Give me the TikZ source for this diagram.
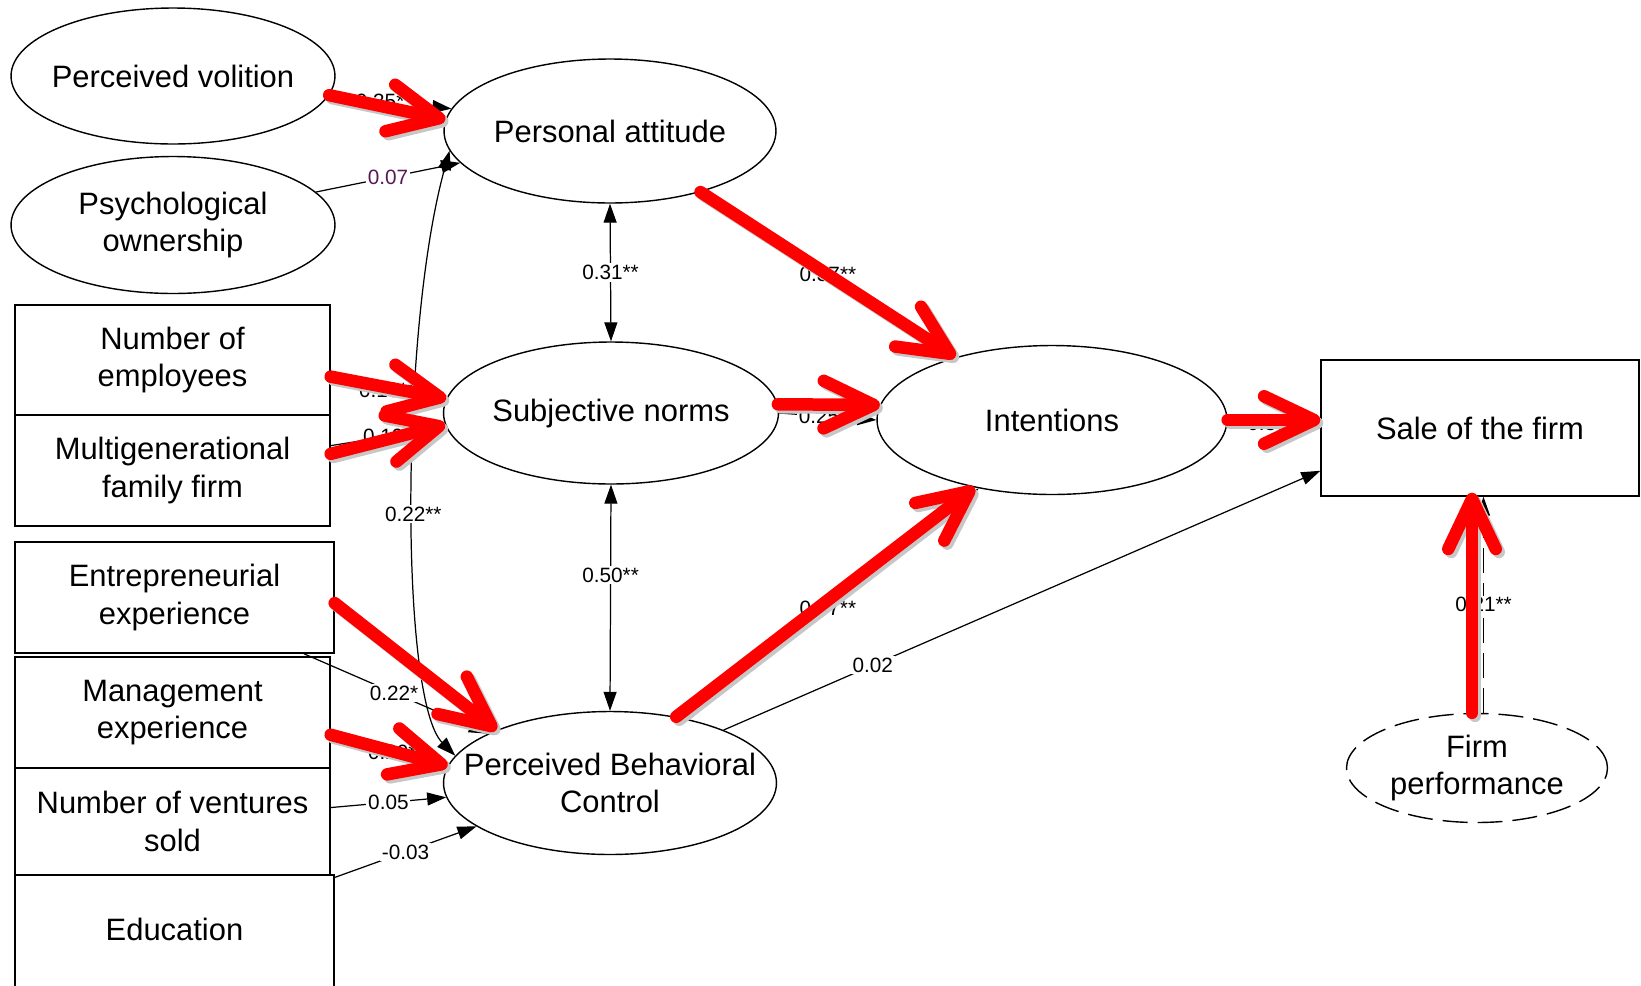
\documentclass[tikz,border=0pt]{standalone}
\usepackage{fontspec}
\setmainfont{Liberation Sans}
\usepackage{tikz}
\usetikzlibrary{arrows.meta, shapes.geometric}

\definecolor{coefpurple}{RGB}{88,24,88}

\begin{document}
\begin{tikzpicture}[
            font=\fontsize{17.6}{21.4}\selectfont,
            x=0.02cm, y=-0.02cm,
            >={Triangle[length=0.38cm, width=0.26cm]},
            latent/.style  ={ellipse, draw, line width=0.8pt, inner xsep=-1cm, inner ysep=0pt, align=center},
            obs/.style     ={rectangle, draw, line width=0.8pt, inner sep=0pt, align=center},
            path/.style    ={->, line width=0.7pt},
            coef/.style    ={font=\fontsize{11.8}{13}\selectfont, fill=white, inner sep=1pt},
            hot/.style     ={line width=0.25cm, draw=red, line cap=round,
                             -{Straight Barb[round, length=1cm, width=0.95cm]}},
            hotshade/.style={hot, draw=black!22, transform canvas={shift={(0.06cm,-0.06cm)}}}
        ]
        \useasboundingbox (0,0) rectangle (1641,985);

        % constructs
        \node[latent, minimum width=6.48cm, minimum height=2.72cm] (PV) at (173,76) {Perceived volition};
        \node[latent, minimum width=6.48cm, minimum height=2.74cm] (PO) at (173,225) {Psychological\\ownership};
        \node[latent, minimum width=6.64cm, minimum height=2.88cm] (PA) at (610,131) {Personal attitude};
        \node[latent, minimum width=6.70cm, minimum height=2.84cm] (SN) at (611,413) {Subjective norms};
        \node[latent, minimum width=7.00cm, minimum height=2.98cm] (INT) at (1052,420) {Intentions};
        \node[latent, minimum width=6.66cm, minimum height=2.86cm] (PBC) at (610,783) {Perceived Behavioral\\Control};
        \node[latent, dash pattern=on 0.5cm off 0.2cm, minimum width=5.22cm, minimum height=2.18cm]
              (FP) at (1477,768) {Firm\\performance};
        \node[obs, minimum width=6.36cm, minimum height=2.72cm] (SALE) at (1480,428) {Sale of the firm};

        % controls on the left
        \node[obs, minimum width=6.30cm, minimum height=2.20cm] (NoE) at (172.5,360) {Number of\\employees};
        \node[obs, minimum width=6.30cm, minimum height=2.22cm] (MFF) at (172.5,470.5) {Multigenerational\\family firm};
        \node[obs, minimum width=6.38cm, minimum height=2.22cm] (EE) at (174.5,597.5) {Entrepreneurial\\experience};
        \node[obs, minimum width=6.30cm, minimum height=2.22cm] (ME) at (172.5,712.5) {Management\\experience};
        \node[obs, minimum width=6.30cm, minimum height=2.14cm] (NVS) at (172.5,821.5) {Number of ventures\\sold};
        \node[obs, minimum width=6.38cm, minimum height=2.40cm, text depth=0pt] (EDU) at (174.5,935) {};
        \node (EDUtxt) at (174.5,929) {Education};

        % estimated paths
        \draw[path] (PV.-7) -- node[coef, pos=0.45]{0.35**} (PA.172);
        \draw[path] (PO.13) -- node[coef, text=coefpurple]{0.07} (PA.192);
        \draw[<->, line width=0.7pt] (PA.south) -- node[coef]{0.31**} (SN.north);
        \draw[<->, line width=0.7pt] (SN.south) -- node[coef, pos=0.4]{0.50**} (PBC.north);
        \draw[<->, line width=0.7pt] (PA.187) .. controls (400,330) and (400,700) ..
              node[coef, pos=0.52]{0.22**} (PBC.170);
        \draw[path] (NoE) -- node[coef, pos=0.49]{0.19**} (SN.175);
        \draw[path] (MFF) -- node[coef, pos=0.49]{0.19*} (SN.185);
        \draw[path] (EE) -- node[coef, pos=0.49]{0.22*} (PBC.158);
        \draw[path] (ME) -- node[coef, pos=0.52]{0.20*} (PBC.173);
        \draw[path] (NVS) -- node[coef]{0.05} (PBC.185);
        \draw[path] (EDU) -- node[coef]{-0.03} (PBC.198);
        \draw[path] (SN.east) -- node[coef, pos=0.41]{0.25} (INT.west);
        \draw[path] (PA.-34) -- node[coef]{0.37**} (INT.147);
        \draw[path] (PBC.39) -- node[coef, pos=0.48]{0.37**} (INT.223);
        \draw[path] (PBC.25) -- node[coef, pos=0.25]{0.02} (SALE.195);
        \draw[path] (INT.east) -- node[coef, pos=0.43]{0.30} (SALE.west);
        \draw[path, dash pattern=on 0.5cm off 0.2cm] ([xshift=0.13cm]FP.north) --
              node[coef]{0.21**} ([xshift=0.13cm]FP.north |- SALE.south);

        % highlighted paths
        \foreach \s/\t in {PV.-7/PA.176, NoE.-6/SN.175, MFF.6/SN.184, EE.-2/PBC.155,
                           ME.-8/PBC.174, SN.3/INT.175, PA.-34/INT.147, PBC.45/INT.221}{
            \draw[hotshade] (\s) -- (\t);
            \draw[hot] (\s) -- (\t);
        }
        \draw[hotshade] (INT.east) -- (INT.east -| SALE.west);
        \draw[hot] (INT.east) -- (INT.east -| SALE.west);
        \draw[hotshade] ([xshift=-0.1cm]FP.north) -- ([xshift=-0.1cm, yshift=0.08cm]FP.north |- SALE.south);
        \draw[hot] ([xshift=-0.1cm]FP.north) -- ([xshift=-0.1cm, yshift=0.08cm]FP.north |- SALE.south);

    \end{tikzpicture}
\end{document}
